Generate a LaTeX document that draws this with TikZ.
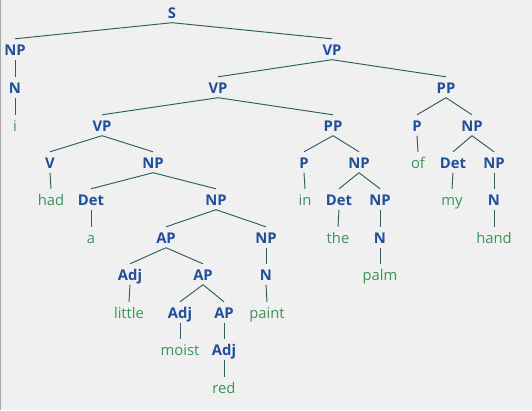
\documentclass[tikz,border=0pt]{standalone}
\usepackage{fontspec}
\setmainfont{Open Sans}
\definecolor{bg}{HTML}{F0F0F0}
\definecolor{cat}{HTML}{1F4E9B}
\definecolor{leafc}{HTML}{3A9458}
\definecolor{edge}{HTML}{2E5F60}
\definecolor{frame}{HTML}{A8A8A8}
\begin{document}
\begin{tikzpicture}[x=1pt,y=-1pt,
  lab/.style={anchor=base,inner xsep=1pt,inner ysep=2.5pt,text height=13.5pt,text depth=2pt,font=\fontsize{14.8}{16}\selectfont},
  cat/.style={lab,text=cat,font=\fontsize{14.8}{16}\selectfont\bfseries},
  leaf/.style={lab,text=leafc},
  br/.style={draw=edge,line width=0.95pt}]
\fill[bg] (0,0) rectangle (532,410);
\useasboundingbox (0,0) rectangle (532,410);
\draw[frame,line width=1pt] (0.5,0) -- (0.5,410);
% row baselines: 18,55,93,131,168,205,243,280,318,355,393
\node[cat] (s) at (172,18) {S};
\node[cat] (np1) at (15,55) {NP};
\node[cat] (vp1) at (332,55) {VP};
\node[cat] (n1) at (15,93) {N};
\node[leaf] (i) at (15,131) {i};
\node[cat] (vp2) at (218,93) {VP};
\node[cat] (pp1) at (446,93) {PP};
\node[cat] (vp3) at (102,131) {VP};
\node[cat] (pp2) at (333,131) {PP};
\node[cat] (p1) at (417,131) {P};
\node[cat] (np2) at (472,131) {NP};
\node[cat] (v) at (50,168) {V};
\node[cat] (np3) at (153,168) {NP};
\node[cat] (p2) at (304,168) {P};
\node[cat] (np4) at (359,168) {NP};
\node[leaf] (of) at (418,168) {of};
\node[cat] (det1) at (453,168) {Det};
\node[cat] (np5) at (494,168) {NP};
\node[leaf] (had) at (51,205) {had};
\node[cat] (det2) at (91,205) {Det};
\node[cat] (np6) at (216,205) {NP};
\node[leaf] (in) at (305,205) {in};
\node[cat] (det3) at (339,205) {Det};
\node[cat] (np7) at (380,205) {NP};
\node[leaf] (my) at (452,205) {my};
\node[cat] (n2) at (494,205) {N};
\node[leaf] (a) at (91,243) {a};
\node[cat] (ap1) at (166,243) {AP};
\node[cat] (np8) at (266,243) {NP};
\node[leaf] (the) at (338,243) {the};
\node[cat] (n3) at (380,243) {N};
\node[leaf] (hand) at (494,243) {hand};
\node[cat] (adj1) at (130,280) {Adj};
\node[cat] (ap2) at (203,280) {AP};
\node[cat] (n4) at (266,280) {N};
\node[leaf] (palm) at (380,280) {palm};
\node[leaf] (little) at (129,318) {little};
\node[cat] (adj2) at (180,318) {Adj};
\node[cat] (ap3) at (224,318) {AP};
\node[leaf] (paint) at (267,318) {paint};
\node[leaf] (moist) at (180,355) {moist};
\node[cat] (adj3) at (224,355) {Adj};
\node[leaf] (red) at (224,393) {red};
\foreach \p/\c in {s/np1,s/vp1,np1/n1,n1/i,vp1/vp2,vp1/pp1,vp2/vp3,vp2/pp2,
  vp3/v,vp3/np3,v/had,np3/det2,np3/np6,det2/a,np6/ap1,np6/np8,ap1/adj1,ap1/ap2,
  adj1/little,ap2/adj2,ap2/ap3,adj2/moist,ap3/adj3,adj3/red,np8/n4,n4/paint,
  pp2/p2,pp2/np4,p2/in,np4/det3,np4/np7,det3/the,np7/n3,n3/palm,
  pp1/p1,pp1/np2,p1/of,np2/det1,np2/np5,det1/my,np5/n2,n2/hand}
  \draw[br] (\p.south) -- (\c.north);
\end{tikzpicture}
\end{document}
